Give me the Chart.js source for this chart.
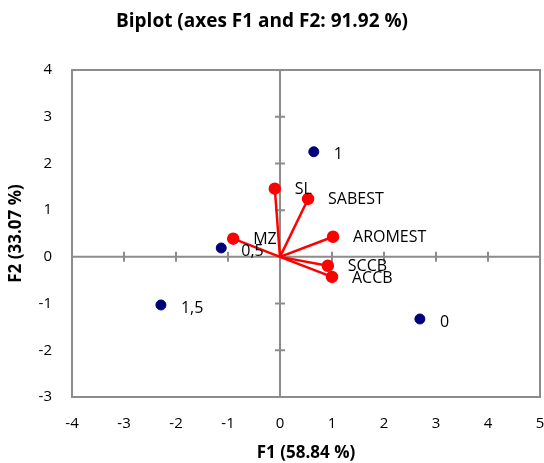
<!DOCTYPE html>
<html>
<head>
<meta charset="utf-8">
<script src="https://cdn.jsdelivr.net/npm/chart.js@4"></script>
<style>
  html, body { margin: 0; background: #fff; overflow: hidden; }
  #wrap { width: 544px; height: 463px; }
</style>
</head>
<body>
<div id="wrap"><canvas id="myChart"></canvas></div>
<script>
//Biplot data (F1 / F2)
const obsLabels = ["1", "0,5", "1,5", "0"];
const obsF1 = [0.65, -1.13, -2.29, 2.69];
const obsF2 = [2.25, 0.19, -1.03, -1.33];

const varLabels = ["SL", "SABEST", "MZ", "AROMEST", "SCCB", "ACCB"];
const varF1 = [-0.1, 0.54, -0.9, 1.02, 0.92, 1.0];
const varF2 = [1.46, 1.24, 0.39, 0.43, -0.19, -0.43];

const xRange = [-4, 5];
const yRange = [-3, 4];

const chartTitle = "Biplot (axes F1 and F2: 91.92 %)";
const axisGray = "#8c8c8c";
const font = "Open Sans";

//one segment per variable, from the origin
const vectorSets = varLabels.map((name, i) => ({
  label: name,
  data: [{ x: 0, y: 0 }, { x: varF1[i], y: varF2[i] }],
  showLine: true,
  borderColor: "#ff0000",
  backgroundColor: "#ff0000",
  borderWidth: 2.5,
  pointRadius: [0, 5],
  pointHoverRadius: [0, 5],
}));

const obsSet = {
  label: "obs",
  data: obsF1.map((x, i) => ({ x: x, y: obsF2[i] })),
  backgroundColor: "#00007a",
  borderColor: "#00007a",
  pointRadius: 5,
};

//pin the plot frame to where the original has it
const plotBox = { left: 72, top: 70, right: 540, bottom: 397 };

const biplotDecor = {
  id: "biplotDecor",
  afterLayout(chart) {
    const ca = chart.chartArea;
    Object.assign(ca, plotBox);
    ca.width = ca.right - ca.left;
    ca.height = ca.bottom - ca.top;
    const sx = chart.scales.x;
    sx.left = plotBox.left;
    sx.right = plotBox.right;
    sx.width = sx.right - sx.left;
    sx.top = plotBox.bottom;
    sx.bottom = chart.height;
    sx.height = sx.bottom - sx.top;
    sx.configure();
    const sy = chart.scales.y;
    sy.top = plotBox.top;
    sy.bottom = plotBox.bottom;
    sy.height = sy.bottom - sy.top;
    sy.right = plotBox.left;
    sy.width = sy.right - sy.left;
    sy.configure();
  },
  //zero axes with crossing ticks and the frame
  beforeDatasetsDraw(chart) {
    const { ctx, chartArea, scales } = chart;
    const x0 = scales.x.getPixelForValue(0);
    const y0 = scales.y.getPixelForValue(0);
    ctx.save();
    ctx.strokeStyle = axisGray;
    ctx.lineWidth = 2;
    ctx.strokeRect(chartArea.left, chartArea.top, chartArea.width, chartArea.height);
    ctx.beginPath();
    ctx.moveTo(chartArea.left, y0);
    ctx.lineTo(chartArea.right, y0);
    ctx.moveTo(x0, chartArea.top);
    ctx.lineTo(x0, chartArea.bottom);
    for (let v = xRange[0] + 1; v < xRange[1]; v++) {
      if (v === 0) continue;
      const px = scales.x.getPixelForValue(v);
      ctx.moveTo(px, y0 - 5);
      ctx.lineTo(px, y0 + 5);
    }
    for (let v = yRange[0] + 1; v < yRange[1]; v++) {
      if (v === 0) continue;
      const py = scales.y.getPixelForValue(v);
      ctx.moveTo(x0 - 5, py);
      ctx.lineTo(x0 + 5, py);
    }
    ctx.stroke();
    ctx.restore();
  },
  //point labels and title
  afterDatasetsDraw(chart) {
    const { ctx, scales } = chart;
    ctx.save();
    ctx.fillStyle = "#000";
    ctx.font = "16px '" + font + "'";
    ctx.textBaseline = "middle";
    obsLabels.forEach((t, i) => {
      ctx.fillText(t, scales.x.getPixelForValue(obsF1[i]) + 20, scales.y.getPixelForValue(obsF2[i]) + 3);
    });
    varLabels.forEach((t, i) => {
      ctx.fillText(t, scales.x.getPixelForValue(varF1[i]) + 20, scales.y.getPixelForValue(varF2[i]) + 1);
    });
    ctx.font = "bold 19px '" + font + "'";
    ctx.textAlign = "center";
    ctx.fillText(chartTitle, 262, 22);
    ctx.restore();
  },
};

new Chart("myChart", {
  type: "scatter",
  data: { datasets: [...vectorSets, obsSet] },
  options: {
    responsive: true,
    maintainAspectRatio: false,
    animation: false,
    events: [],
    layout: { padding: { top: 70, right: 0, left: 6, bottom: 0 } },
    plugins: {
      legend: { display: false },
      tooltip: { enabled: false },
      title: { display: false },
    },
    scales: {
      x: {
        type: "linear",
        min: xRange[0],
        max: xRange[1],
        ticks: { stepSize: 1, color: "#000", font: { family: font, size: 15 }, padding: 10 },
        grid: { display: false },
        border: { display: false },
        title: {
          display: true,
          text: "F1 (58.84 %)",
          color: "#000",
          font: { family: font, size: 17, weight: "bold" },
          padding: { top: 6, bottom: 0 },
        },
        afterFit: (s) => { s.height = 66; },
      },
      y: {
        type: "linear",
        min: yRange[0],
        max: yRange[1],
        ticks: { stepSize: 1, color: "#000", font: { family: font, size: 15 }, padding: 12 },
        grid: { display: false },
        border: { display: false },
        title: {
          display: true,
          text: "F2 (33.07 %)",
          color: "#000",
          font: { family: font, size: 17, weight: "bold" },
          padding: { top: 0, bottom: 6 },
        },
        afterFit: (s) => { s.width = 66; },
      },
    },
  },
  plugins: [biplotDecor],
});
</script>
</body>
</html>
